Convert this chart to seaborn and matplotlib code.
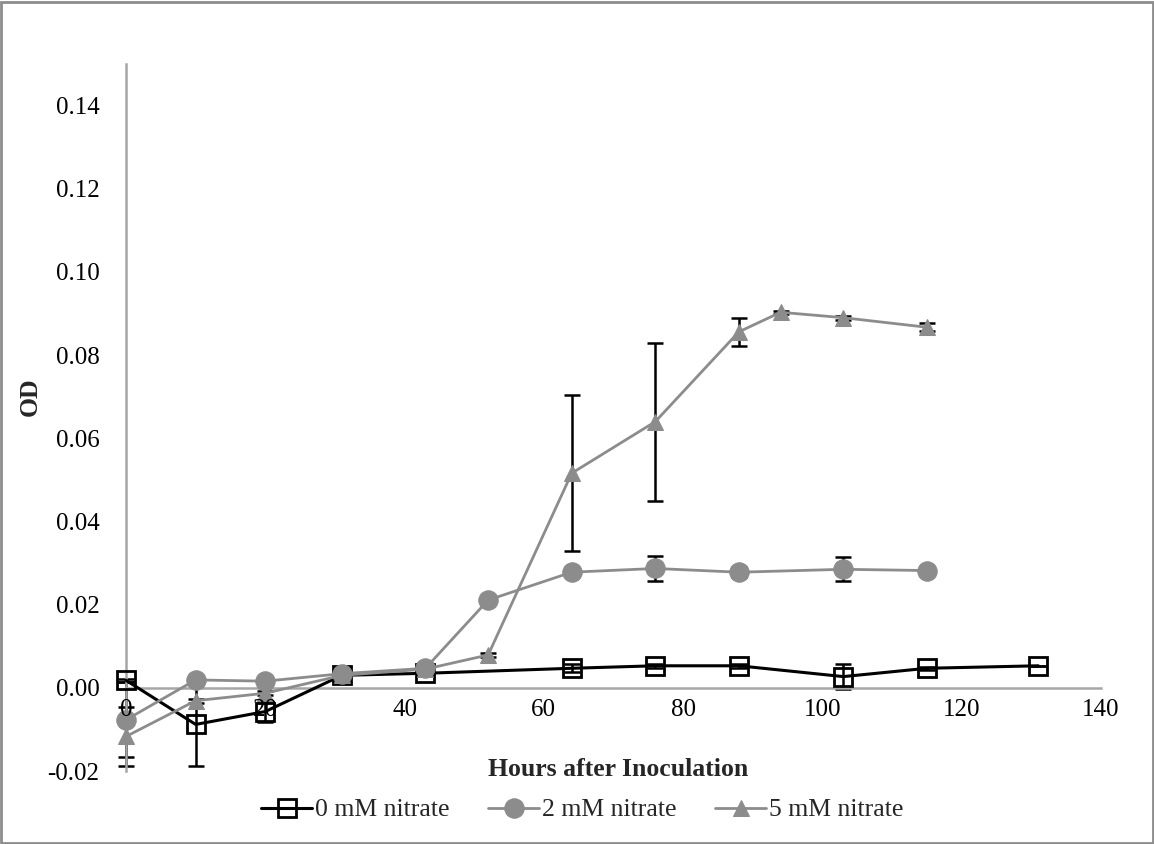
import matplotlib
matplotlib.use("Agg")
import matplotlib.pyplot as plt
import matplotlib.patches as mpatches
import pandas as pd
import seaborn as sns

# Optical density readings (mean and error) for each nitrate level
hours_0 = [0, 10, 20, 31, 43, 64, 76, 88, 103, 115, 131]
od_0 = [0.0018, -0.0088, -0.0057, 0.0030, 0.0035, 0.0047, 0.0053, 0.0053, 0.0027, 0.0047, 0.0053]
err_0 = [0.0004, 0.0100, 0.0025, 0.0005, 0.0005, 0.0010, 0.0005, 0.0005, 0.0030, 0.0003, 0.0]

hours_2 = [0, 10, 20, 31, 43, 52, 64, 76, 88, 103, 115]
od_2 = [-0.0077, 0.0019, 0.0016, 0.0034, 0.0047, 0.0211, 0.0278, 0.0287, 0.0278, 0.0285, 0.0282]
err_2 = [0.0090, 0.0005, 0.0005, 0.0005, 0.0005, 0.0005, 0.0005, 0.0031, 0.0012, 0.0029, 0.0008]

hours_5 = [0, 10, 20, 31, 43, 52, 64, 76, 88, 94, 103, 115]
od_5 = [-0.0117, -0.0031, -0.0013, 0.0030, 0.0045, 0.0079, 0.0516, 0.0640, 0.0856, 0.0903, 0.0890, 0.0867]
err_5 = [0.0072, 0.0005, 0.0005, 0.0005, 0.0005, 0.0005, 0.0188, 0.0190, 0.0034, 0.0003, 0.0005, 0.0010]

labels = ["0 mM nitrate", "2 mM nitrate", "5 mM nitrate"]
y_ticks = [-0.02, 0.00, 0.02, 0.04, 0.06, 0.08, 0.10, 0.12, 0.14]
x_ticks = [0, 20, 40, 60, 80, 100, 120, 140]

sns.set_theme(style="white")
plt.rcParams["font.family"] = ["Liberation Serif", "DejaVu Serif"]

GRAY = "#8c8c8c"
AXIS_GRAY = "#a6a6a6"
FS = 18

fig = plt.figure(figsize=(11.54, 8.44), dpi=100)
ax = fig.add_axes([126 / 1154, 1 - 771 / 844, (1101 - 126) / 1154, (771 - 64) / 844])

series = [
    (hours_0, od_0, err_0, labels[0], "black", "s",
     dict(markerfacecolor="none", markeredgecolor="black", markeredgewidth=2.0, markersize=13), 2.2),
    (hours_2, od_2, err_2, labels[1], GRAY, "o",
     dict(markerfacecolor=GRAY, markeredgecolor=GRAY, markersize=14), 2.0),
    (hours_5, od_5, err_5, labels[2], GRAY, "^",
     dict(markerfacecolor=GRAY, markeredgecolor=GRAY, markersize=12), 2.0),
]

for hrs, od, err, lab, col, mk, mkw, lw in series:
    df = pd.DataFrame({"Hours": hrs, "OD": od})
    eb = ax.errorbar(df["Hours"], df["OD"], yerr=err, fmt="none", ecolor="black",
                     elinewidth=1.8, capsize=6, capthick=1.8, zorder=2)
    for art in eb.lines[1] + eb.lines[2]:
        art.set_clip_on(False)
    sns.lineplot(data=df, x="Hours", y="OD", ax=ax, color=col, linewidth=lw,
                 marker=mk, label=lab, zorder=3, clip_on=False, **mkw)

ax.set_xlim(0, 140)
ax.set_ylim(-0.02, 0.15)
ax.set_xticks(x_ticks)
ax.set_yticks(y_ticks)
ax.set_yticklabels([f"{v:.2f}" for v in y_ticks])
ax.set_xticklabels([str(v) for v in x_ticks])

for side in ("top", "right"):
    ax.spines[side].set_visible(False)
ax.spines["bottom"].set_position(("data", 0))
for side in ("left", "bottom"):
    ax.spines[side].set_color(AXIS_GRAY)
    ax.spines[side].set_linewidth(1.8)

ax.tick_params(axis="both", which="major", direction="out", length=7, width=1.6,
               color=AXIS_GRAY, labelsize=FS, labelcolor="black")
ax.tick_params(axis="x", pad=1)
ax.tick_params(axis="y", pad=12)
ax.xaxis.set_zorder(4)
ax.set_xlabel("")
ax.set_ylabel("")
ax.grid(False)

fig.text(618 / 1154, 1 - 769 / 844, "Hours after Inoculation", ha="center", va="center",
         fontsize=FS + 0.5, fontweight="bold")
fig.text(30 / 1154, 1 - 397 / 844, "OD", ha="center", va="center", rotation=90,
         fontsize=FS + 0.5, fontweight="bold")

handles, labs = ax.get_legend_handles_labels()
ax.get_legend().remove()
fig.legend(handles, labs, loc="center", bbox_to_anchor=(582 / 1154, 1 - 810 / 844), ncol=3,
           frameon=False, fontsize=FS + 0.5, handlelength=2.0, handletextpad=0.1,
           columnspacing=1.5)

fig.patches.append(mpatches.Rectangle((0.001, 0.001), 0.998, 0.997, transform=fig.transFigure,
                                      fill=False, edgecolor=GRAY, linewidth=2))

fig.savefig("out.png", dpi=100)
